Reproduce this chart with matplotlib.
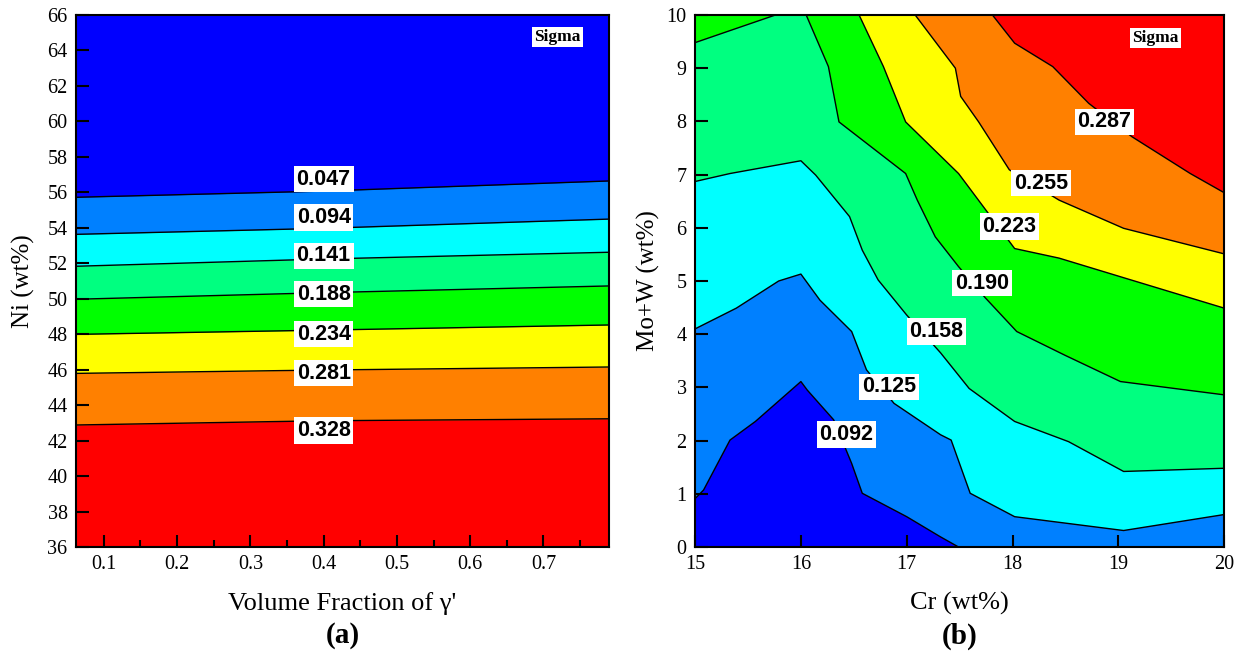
import matplotlib
matplotlib.use('Agg')
import matplotlib.pyplot as plt
from matplotlib.ticker import MultipleLocator

# band colours, low sigma -> high sigma
band_colors = ['#0000ff', '#0080ff', '#00ffff', '#00ff80', '#00ff00', '#ffff00', '#ff8000', '#ff0000']

# ---- (a) Ni vs volume fraction of gamma' ----
vf = [0.062, 0.40, 0.789]
levels_a = ['0.047', '0.094', '0.141', '0.188', '0.234', '0.281', '0.328']
ni_lines = [
	[55.72, 56.07, 56.64],
	[53.63, 53.97, 54.49],
	[51.83, 52.24, 52.62],
	[49.97, 50.34, 50.72],
	[47.99, 48.23, 48.52],
	[45.79, 45.98, 46.15],
	[42.88, 43.12, 43.23],
]
lab_a_x = [0.40, 0.40, 0.40, 0.40, 0.40, 0.40, 0.40]
lab_a_y = [56.75, 54.58, 52.42, 50.26, 48.0, 45.81, 42.57]

# ---- (b) Mo+W vs Cr ----
levels_b = ['0.092', '0.125', '0.158', '0.190', '0.223', '0.255', '0.287']
cr_lines = [
	[15.0, 15.08, 15.33, 15.57, 16.0, 16.06, 16.31, 16.48, 16.58, 17.0, 17.32, 17.49],
	[15.0, 15.39, 15.79, 16.0, 16.18, 16.48, 16.62, 16.88, 17.32, 17.42, 17.6, 18.02, 19.05, 20.0],
	[15.0, 15.33, 16.0, 16.14, 16.46, 16.58, 16.73, 17.0, 17.32, 17.59, 18.02, 18.53, 19.05, 20.0],
	[16.05, 16.26, 16.36, 16.99, 17.1, 17.27, 17.49, 17.74, 18.04, 18.5, 19.02, 20.0],
	[16.55, 16.78, 16.99, 17.49, 18.02, 18.44, 19.02, 20.0],
	[17.08, 17.46, 17.51, 17.68, 17.97, 18.44, 19.05, 20.0],
	[17.81, 18.02, 18.38, 18.72, 19.13, 19.68, 20.0],
]
mow_lines = [
	[0.91, 1.07, 2.01, 2.36, 3.11, 2.95, 2.39, 1.57, 1.01, 0.57, 0.19, 0.0],
	[4.10, 4.49, 5.0, 5.13, 4.64, 4.05, 3.33, 2.70, 2.11, 2.01, 1.01, 0.57, 0.31, 0.61],
	[6.87, 7.02, 7.26, 6.99, 6.21, 5.58, 5.02, 4.36, 3.65, 2.98, 2.36, 1.98, 1.42, 1.48],
	[10.0, 9.03, 7.99, 7.02, 6.52, 5.83, 5.27, 4.69, 4.05, 3.6, 3.11, 2.86],
	[10.0, 9.03, 7.99, 7.02, 5.61, 5.43, 5.08, 4.49],
	[10.0, 9.0, 8.47, 7.99, 7.09, 6.52, 5.99, 5.51],
	[10.0, 9.47, 9.03, 8.34, 7.71, 7.02, 6.66],
]
# small closed 0.190 piece in the upper-left corner
cr_corner = [15.0, 15.35, 15.76]
mow_corner = [9.48, 9.72, 10.0]
lab_b_x = [16.43, 16.83, 17.28, 17.71, 17.97, 18.27, 18.87]
lab_b_y = [2.11, 3.01, 4.05, 4.96, 6.02, 6.84, 7.99]

serif = 'Liberation Serif'
sans = 'Liberation Sans'
lab_box = dict(facecolor='white', edgecolor='none', pad=2)
sig_box = dict(facecolor='white', edgecolor='none', pad=1.5)

fig = plt.figure(figsize=(12.39, 6.54), dpi=100)
ax1 = fig.add_axes([0.0613, 0.1636, 0.430, 0.8135])
ax2 = fig.add_axes([0.561, 0.1636, 0.427, 0.8135])

# (a)
xa0, xa1, ya0, ya1 = 0.062, 0.789, 36, 66
ax1.set_facecolor(band_colors[0])
for i, yl in enumerate(ni_lines):
	ax1.fill_between(vf, ya0, yl, color=band_colors[i + 1], linewidth=0)
for yl in ni_lines:
	ax1.plot(vf, yl, color='black', linewidth=1.0)
for t, x, y in zip(levels_a, lab_a_x, lab_a_y):
	ax1.text(x, y, t, ha='center', va='center', fontsize=15.5, fontweight='bold', family=sans, bbox=lab_box)
ax1.set_xlim(xa0, xa1)
ax1.set_ylim(ya0, ya1)
ax1.xaxis.set_major_locator(MultipleLocator(0.1))
ax1.xaxis.set_minor_locator(MultipleLocator(0.05))
ax1.yaxis.set_major_locator(MultipleLocator(2))
ax1.set_xlabel("Volume Fraction of γ'", family=serif, fontsize=19, labelpad=13)
ax1.set_ylabel('Ni (wt%)', family=serif, fontsize=18, labelpad=9)
ax1.text(0.5, -0.167, '(a)', transform=ax1.transAxes, ha='center', va='center', family=serif, fontsize=21, fontweight='bold')
ax1.text(0.719, 64.75, 'Sigma', ha='center', va='center', family=serif, fontsize=12.5, fontweight='bold', bbox=sig_box)

# (b)
xb0, xb1, yb0, yb1 = 15, 20, 0, 10
ax2.set_facecolor(band_colors[0])
for i, (xs, ys) in enumerate(zip(cr_lines, mow_lines)):
	px, py = list(xs), list(ys)
	if ys[-1] == yb0:
		px.append(xb1); py.append(yb0)
	px.append(xb1); py.append(yb1)
	if xs[0] == xb0:
		px.append(xb0); py.append(yb1)
	ax2.fill(px, py, color=band_colors[i + 1], linewidth=0)
	if i == 3:
		ax2.fill(cr_corner + [xb0], mow_corner + [yb1], color=band_colors[4], linewidth=0)
for xs, ys in zip(cr_lines, mow_lines):
	ax2.plot(xs, ys, color='black', linewidth=1.0)
ax2.plot(cr_corner, mow_corner, color='black', linewidth=1.0)
for t, x, y in zip(levels_b, lab_b_x, lab_b_y):
	ax2.text(x, y, t, ha='center', va='center', fontsize=15.5, fontweight='bold', family=sans, bbox=lab_box)
ax2.set_xlim(xb0, xb1)
ax2.set_ylim(yb0, yb1)
ax2.xaxis.set_major_locator(MultipleLocator(1))
ax2.yaxis.set_major_locator(MultipleLocator(1))
ax2.set_xlabel('Cr (wt%)', family=serif, fontsize=19, labelpad=13)
ax2.set_ylabel('Mo+W (wt%)', family=serif, fontsize=18, labelpad=5)
ax2.text(0.5, -0.167, '(b)', transform=ax2.transAxes, ha='center', va='center', family=serif, fontsize=21, fontweight='bold')
ax2.text(19.35, 9.56, 'Sigma', ha='center', va='center', family=serif, fontsize=12.5, fontweight='bold', bbox=sig_box)

for ax in (ax1, ax2):
	ax.tick_params(which='both', direction='in', top=False, right=False, width=1.5)
	ax.tick_params(which='major', length=9, labelsize=14.5, pad=6)
	ax.tick_params(which='minor', length=5)
	for lab in ax.get_xticklabels() + ax.get_yticklabels():
		lab.set_family(serif)
	for sp in ax.spines.values():
		sp.set_linewidth(1.5)

fig.savefig('out.png', dpi=100)
